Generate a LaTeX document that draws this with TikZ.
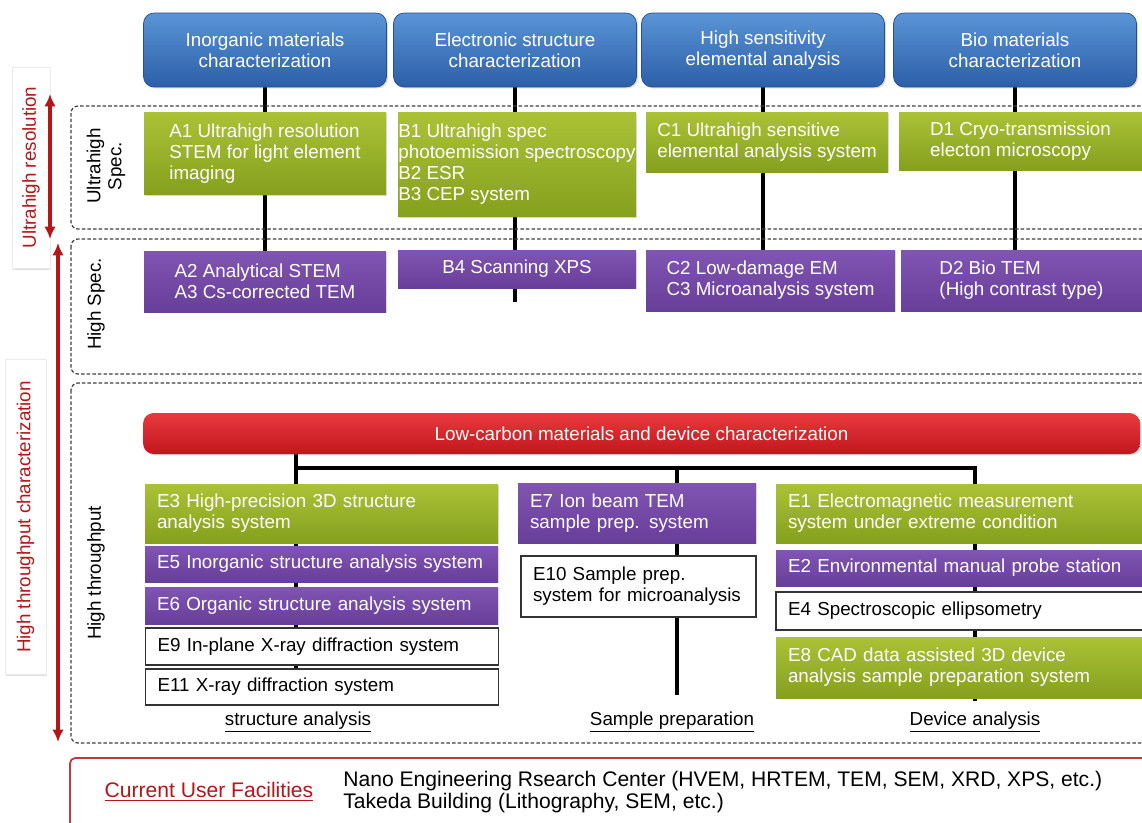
\documentclass[tikz,border=0pt]{standalone}
\usepackage{fontspec}
\setmainfont{Liberation Sans}
\usetikzlibrary{arrows.meta,shadows,backgrounds}

\definecolor{hdrtop}{HTML}{5A94D6}
\definecolor{hdrbot}{HTML}{2C5FA8}
\definecolor{hdrline}{HTML}{24508F}
\definecolor{gtop}{HTML}{ABC236}
\definecolor{gbot}{HTML}{85A01E}
\definecolor{ptop}{HTML}{8055B3}
\definecolor{pbot}{HTML}{673E98}
\definecolor{rtop}{HTML}{E83A3E}
\definecolor{rbot}{HTML}{C2161E}
\definecolor{mark}{HTML}{B5161A}

\begin{document}
\begin{tikzpicture}[
    x=0.02cm, y=-0.02cm,
    every node/.style={font=\fontsize{10.7}{12}\selectfont},
    soft/.style={drop shadow={opacity=0.3, shadow xshift=0.8pt, shadow yshift=-0.8pt}},
    hdr/.style={soft, rounded corners=6pt, draw=hdrline, top color=hdrtop, bottom color=hdrbot, text=white, align=center, minimum width=4.86cm, minimum height=1.48cm},
    gbox/.style={soft, top color=gtop, bottom color=gbot, text=white, align=left, inner sep=0pt},
    pbox/.style={soft, top color=ptop, bottom color=pbot, text=white, align=left, inner sep=0pt},
    wbox/.style={draw=black!80, fill=white, line width=0.8pt, align=left, inner sep=0pt},
    ecol/.style={text width=#1, inner xsep=0.24cm, inner ysep=0pt},
    lcbar/.style={soft, rounded corners=6pt, top color=rtop, bottom color=rbot, text=white, minimum width=19.94cm, minimum height=0.82cm},
    conn/.style={line width=2.5pt, black},
    rowframe/.style={draw=black!75, dash pattern=on 2pt off 1.2pt, line width=0.7pt, rounded corners=4pt},
    rowlab/.style={rotate=90, align=center},
    sidelab/.style={rotate=90, fill=white, draw=black!8, text=mark, drop shadow={opacity=0.25, shadow xshift=0.6pt, shadow yshift=-1pt}},
    span/.style={draw=mark, line width=1.8pt, {Latex[length=7pt,width=6.5pt]}-{Latex[length=7pt,width=6.5pt]}},
    facframe/.style={draw=mark!85, line width=1pt, rounded corners=3pt},
    big/.style={font=\fontsize{12}{12}\selectfont}
]
    \useasboundingbox (0,0) rectangle (1142,822);

    \draw[rowframe] (71,106) rectangle (1160,229);
    \draw[rowframe] (71,239) rectangle (1160,374);
    \draw[rowframe] (71,383) rectangle (1160,743);
    \draw[facframe] (70,758) rectangle (1160,850);

    \node[sidelab, minimum width=4.02cm, minimum height=0.76cm] (uhres) at (31,167.5) {Ultrahigh resolution};
    \node[sidelab, minimum width=6.3cm, minimum height=0.82cm] (htchar) at (25.5,517) {High throughput characterization};
    \coordinate (uhtop) at (50,94);
    \coordinate (uhbot) at (50,239);
    \coordinate (httop) at (58,243);
    \coordinate (htbot) at (58,742);
    \draw[span] (uhtop) -- (uhbot);
    \draw[span] (httop) -- (htbot);

    \node[rowlab] (uhspec) at (106,166) {Ultrahigh\\Spec.};
    \node[rowlab] (hspec) at (96,304) {High Spec.};
    \node[rowlab] (hthru) at (96,573) {High throughput};

    \node[hdr] (inorg) at (265,50) {Inorganic materials\\characterization};
    \node[hdr] (elec) at (515,50) {Electronic structure\\characterization};
    \node[hdr] (hisens) at (763,50) {High sensitivity\\elemental analysis};
    \node[hdr] (bio) at (1015,50) {Bio materials\\characterization};

    \node[gbox, minimum width=4.84cm, minimum height=1.66cm] (a1) at (265,153.5) {A1 Ultrahigh resolution\\STEM for light element\\imaging};
    \node[gbox, minimum width=4.76cm, minimum height=2.1cm] (b1) at (517,164.5) {B1 Ultrahigh spec\\photoemission spectroscopy\\B2 ESR\\B3 CEP system};
    \node[gbox, minimum width=4.84cm, minimum height=1.2cm] (c1) at (767,142) {C1 Ultrahigh sensitive\\elemental analysis system};
    \node[gbox, minimum width=4.86cm, minimum height=1.16cm] (d1) at (1020.5,141) {D1 Cryo-transmission\\electon microscopy};

    \node[pbox, minimum width=4.84cm, minimum height=1.22cm] (a2) at (265,281.5) {A2 Analytical STEM\\A3 Cs-corrected TEM};
    \node[pbox, minimum width=4.76cm, minimum height=0.76cm] (b4) at (517,269) {B4 Scanning XPS};
    \node[pbox, minimum width=4.98cm, minimum height=1.22cm] (c2) at (770.5,280.5) {C2 Low-damage EM\\C3 Microanalysis system};
    \node[pbox, minimum width=4.82cm, minimum height=1.22cm] (d2) at (1021.5,280.5) {D2 Bio TEM\\(High contrast type)};

    \node[lcbar] (lowc) at (641.5,433.5) {Low-carbon materials and device characterization};

    \node[gbox, ecol=6.58cm, minimum height=1.18cm] (e3) at (321.5,513.5) {E3 High-precision 3D structure\\analysis system};
    \node[pbox, ecol=6.58cm, minimum height=0.72cm] (e5) at (321.5,564) {E5 Inorganic structure analysis system};
    \node[pbox, ecol=6.58cm, minimum height=0.74cm] (e6) at (321.5,605.5) {E6 Organic structure analysis system};
    \node[wbox, ecol=6.58cm, minimum height=0.74cm] (e9) at (322,646.5) {E9 In-plane X-ray diffraction system};
    \node[wbox, ecol=6.58cm, minimum height=0.72cm] (e11) at (322,687) {E11 X-ray diffraction system};

    \node[pbox, ecol=4.28cm, minimum height=1.2cm] (e7) at (637,513) {E7 Ion beam TEM\\sample prep. system};
    \node[wbox, ecol=4.22cm, minimum height=1.22cm] (e10) at (638.5,586.5) {E10 Sample prep.\\system for microanalysis};

    \node[gbox, ecol=7.0cm, minimum height=1.18cm] (e1) at (963,513.5) {E1 Electromagnetic measurement\\system under extreme condition};
    \node[pbox, ecol=7.0cm, minimum height=0.72cm] (e2) at (963,568) {E2 Environmental manual probe station};
    \node[wbox, ecol=7.0cm, minimum height=0.76cm] (e4) at (963,611) {E4 Spectroscopic ellipsometry};
    \node[gbox, ecol=7.0cm, minimum height=1.22cm] (e8) at (963,667.5) {E8 CAD data assisted 3D device\\analysis sample preparation system};

    \node (structlab) at (298,722) {\underline{structure analysis}};
    \node (preplab) at (672,722) {\underline{Sample preparation}};
    \node (devlab) at (975,722) {\underline{Device analysis}};

    \node[big, text=mark] (cuf) at (209,792) {\underline{Current User Facilities}};
    \node[big, anchor=west, align=left, inner sep=0pt] (sites) at (343,792) {Nano Engineering Rsearch Center (HVEM, HRTEM, TEM, SEM, XRD, XPS, etc.)\\Takeda Building (Lithography, SEM, etc.)};

    \coordinate (b4tail) at (515,302);
    \coordinate (jstruct) at (296,468);
    \coordinate (jprep) at (677,468);
    \coordinate (jdev) at (975,468);
    \coordinate (preptail) at (677,695);
    \coordinate (devtail) at (975,701);

    \begin{pgfonlayer}{background}
        \fill[white] (0,0) rectangle (1142,822);
        \draw[conn] (inorg) -- (a2);
        \draw[conn] (elec) -- (elec |- b4tail);
        \draw[conn] (hisens) -- (hisens |- c2);
        \draw[conn] (bio) -- (bio |- d2);
        \draw[conn] (lowc.south -| jstruct) -- (e11.north -| jstruct);
        \draw[conn] (jstruct) -- (jdev) -- (devtail);
        \draw[conn] (jprep) -- (preptail);
    \end{pgfonlayer}
\end{tikzpicture}
\end{document}
